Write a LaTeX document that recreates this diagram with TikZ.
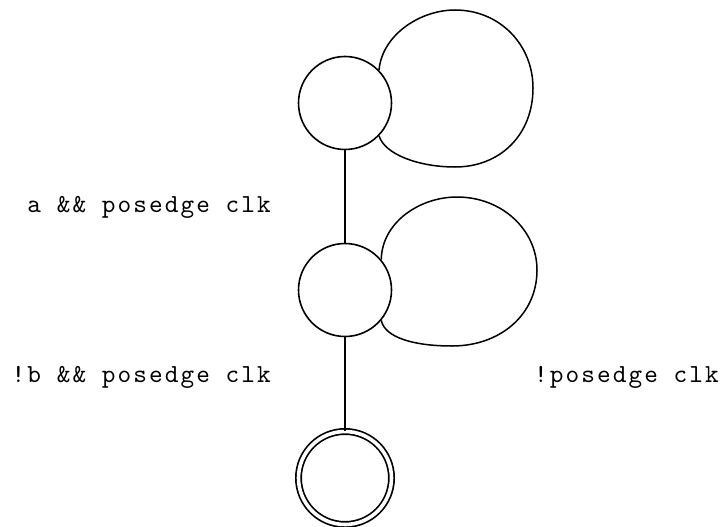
\documentclass[tikz,border=0pt]{standalone}
\usepackage{fontspec}
\newfontfamily\lblfont[Extension=.otf, LetterSpace=8]{lmmono10-regular}
\tikzset{
  state/.style={draw, circle, minimum size=93pt, inner sep=0pt, line width=1.6pt},
  accepting/.style={state, double, double distance=3.6pt, line width=1.7pt},
  conn/.style={line width=1.5pt},
  lbl/.style={inner sep=0pt, font=\lblfont\fontsize{26}{30}\selectfont}
}
\begin{document}
\begin{tikzpicture}[x=1pt, y=-1pt]
\useasboundingbox (0,0) rectangle (725,527);
\node[state] (t) at (345,103) {};
\node[state] (m) at (345,290) {};
\node[accepting] (f) at (345,478) {};
\draw[conn] (t) -- (m);
\draw[conn] (m) -- (f);
\coordinate (t1) at (455,10);
\coordinate (t2) at (533,88);
\coordinate (t3) at (455,167);
\draw[conn] (t.44) .. controls (382,35) and (420,10) .. (t1)
  .. controls (500,10) and (533,45) .. (t2)
  .. controls (533,135) and (500,167) .. (t3)
  .. controls (420,167) and (385,155) .. (t.-44);
\coordinate (m1) at (457,197);
\coordinate (m2) at (537,270);
\coordinate (m3) at (452,346);
\draw[conn] (m.40) .. controls (382,222) and (420,197) .. (m1)
  .. controls (502,197) and (537,230) .. (m2)
  .. controls (537,315) and (500,346) .. (m3)
  .. controls (415,346) and (385,338) .. (m.-40);
\node[lbl, anchor=base east] (l1) at (271,212) {a \&\& posedge clk};
\node[lbl, anchor=base east] (l2) at (271,382) {!b \&\& posedge clk};
\node[lbl, anchor=base west] (l3) at (534,382) {!posedge clk};
\end{tikzpicture}
\end{document}
